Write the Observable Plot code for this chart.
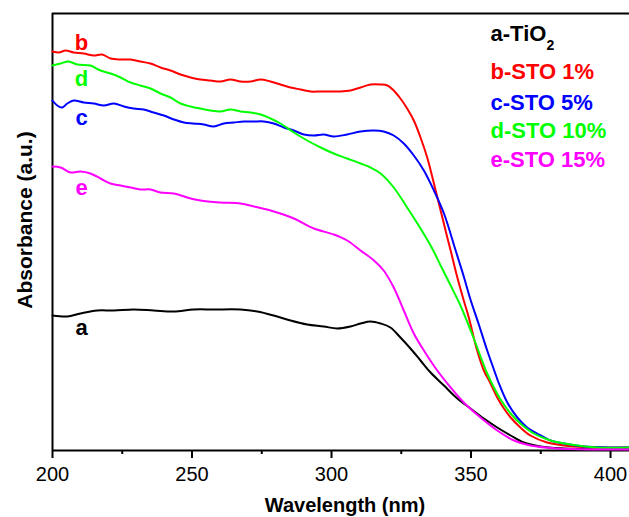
<!DOCTYPE html>
<html><head><meta charset="utf-8">
<script src="https://cdn.jsdelivr.net/npm/d3@7"></script>
<script src="https://cdn.jsdelivr.net/npm/@observablehq/plot@0.6"></script>
<style>body{margin:0;background:#fff;} svg{display:block}</style>
</head><body><div id="chart"></div><script>
// ---- data ----
const seriesKeys = ["a", "b", "c", "d", "e"];
const seriesNames = ["a-TiO2", "b-STO 1%", "c-STO 5%", "d-STO 10%", "e-STO 15%"];
const seriesColors = ["#000000", "#ff0000", "#0000ff", "#00ff00", "#ff00ff"];
const majorTicks = [200, 250, 300, 350, 400];
const minorTicks = [225, 275, 325, 375];

const waveA = [200.0,205.3,210.0,216.0,222.0,229.1,236.3,243.5,250.6,257.8,267.4,273.4,279.3,285.3,291.3,297.2,302.0,306.8,310.4,314.0,317.6,321.1,324.7,328.3,331.9,335.5,340.3,345.1,349.8,354.6,359.4,364.2,368.9,374.9,383.3,395.2,406.8];
const absA  = [1.35,1.34,1.37,1.40,1.40,1.41,1.40,1.39,1.41,1.41,1.41,1.39,1.35,1.30,1.26,1.24,1.22,1.24,1.27,1.29,1.27,1.23,1.13,1.02,0.90,0.78,0.65,0.52,0.42,0.32,0.23,0.15,0.08,0.04,0.02,0.01,0.01];

const waveB = [200.0,202.3,204.7,207.6,211.2,214.8,217.8,220.8,224.4,228.0,231.5,235.1,238.7,242.3,245.9,249.5,253.0,256.6,260.2,263.8,267.4,271.0,274.6,278.1,281.7,285.3,288.9,292.5,296.1,299.6,303.2,306.8,310.4,314.0,317.6,320.0,322.3,324.7,327.1,329.5,331.9,334.3,336.7,339.1,341.5,342.7,345.1,347.4,349.2,352.2,354.6,357.0,359.4,361.8,364.2,367.7,371.3,377.3,383.3,395.2,406.8];
const absB  = [3.99,3.98,4.00,3.98,3.97,3.95,3.96,3.92,3.91,3.91,3.89,3.87,3.83,3.80,3.76,3.73,3.71,3.70,3.69,3.71,3.69,3.69,3.71,3.69,3.66,3.63,3.61,3.59,3.59,3.59,3.59,3.60,3.63,3.66,3.66,3.65,3.60,3.52,3.42,3.30,3.13,2.93,2.67,2.40,2.13,2.00,1.73,1.50,1.33,1.00,0.80,0.67,0.53,0.42,0.33,0.23,0.15,0.08,0.05,0.03,0.03];

const waveC = [200.0,201.7,203.5,205.3,207.6,211.2,214.8,218.4,222.0,225.6,229.1,232.7,236.3,239.9,243.5,247.1,250.6,254.2,257.8,261.4,265.0,268.6,272.2,275.7,279.3,282.9,286.5,290.1,293.7,297.2,300.8,305.6,310.4,315.2,318.7,322.3,325.9,329.5,333.1,336.7,340.3,344.5,347.4,349.8,352.8,355.8,358.2,360.0,363.0,366.6,370.1,373.7,378.5,383.3,390.4,401.2,406.8];
const absC  = [3.50,3.45,3.43,3.47,3.50,3.48,3.47,3.45,3.47,3.44,3.42,3.41,3.38,3.35,3.31,3.28,3.27,3.26,3.24,3.27,3.28,3.29,3.29,3.29,3.27,3.23,3.20,3.16,3.15,3.16,3.14,3.16,3.19,3.20,3.19,3.15,3.07,2.95,2.80,2.60,2.37,2.00,1.74,1.51,1.26,1.00,0.81,0.67,0.48,0.33,0.23,0.17,0.10,0.07,0.04,0.03,0.03];

const waveD = [200.0,202.9,205.8,208.9,213.6,217.2,220.8,224.4,228.0,231.5,235.1,238.7,242.3,245.9,249.5,253.0,256.6,260.2,263.8,267.4,271.0,274.6,278.1,281.7,286.5,291.3,296.1,300.8,305.6,310.4,314.0,317.6,322.3,327.1,331.9,336.1,339.1,342.7,346.2,348.6,351.0,353.4,355.8,358.2,360.6,364.2,367.7,372.5,378.5,385.7,395.2,406.8];
const absD  = [3.85,3.87,3.89,3.86,3.85,3.80,3.77,3.73,3.68,3.65,3.62,3.57,3.53,3.47,3.44,3.42,3.40,3.39,3.41,3.39,3.38,3.36,3.32,3.27,3.18,3.10,3.03,2.97,2.92,2.87,2.83,2.77,2.63,2.43,2.22,2.02,1.85,1.65,1.45,1.29,1.12,0.94,0.77,0.63,0.51,0.37,0.27,0.17,0.10,0.06,0.03,0.03];

const waveE = [200.0,202.9,206.5,210.0,213.6,217.2,220.8,224.4,228.0,231.5,235.1,238.7,243.5,248.3,253.0,260.2,267.4,272.2,279.3,286.5,293.7,300.8,305.6,310.4,315.2,318.7,322.3,325.9,329.5,333.1,337.9,342.7,347.4,353.4,359.4,365.4,371.3,380.9,395.2,406.8];
const absE  = [2.84,2.83,2.78,2.79,2.77,2.72,2.67,2.65,2.63,2.61,2.61,2.58,2.57,2.53,2.50,2.48,2.47,2.44,2.39,2.32,2.22,2.16,2.10,2.00,1.90,1.80,1.63,1.40,1.17,1.00,0.80,0.63,0.48,0.33,0.20,0.10,0.05,0.02,0.01,0.01];

// annotation anchors (data coordinates)
const letterWave = 210.4;
const letterAbs = [1.23, 4.08, 3.33, 3.72, 2.63];
const legendWave = 357.0;
const legendAbs = [4.17, 3.79, 3.48, 3.20, 2.91];

// ---- build table ----
const waves = [waveA, waveB, waveC, waveD, waveE];
const absorb = [absA, absB, absC, absD, absE];
const rows = seriesKeys.flatMap((k, s) => waves[s].map((w, i) => ({series: k, wavelength: w, absorbance: absorb[s][i]})));
const letters = seriesKeys.map((k, i) => ({series: k, wavelength: letterWave, absorbance: letterAbs[i]}));
const legend = seriesKeys.map((k, i) => ({series: k, name: seriesNames[i], wavelength: legendWave, absorbance: legendAbs[i]}));

const chart = Plot.plot({
  width: 629, height: 517,
  marginLeft: 52, marginRight: 0, marginTop: 13, marginBottom: 67,
  style: {fontFamily: "'Liberation Sans', Arial, sans-serif", background: "#fff", color: "#000"},
  x: {domain: [200, 406.8]},
  y: {domain: [0, 4.37], axis: null},
  color: {domain: seriesKeys, range: seriesColors},
  marks: [
    Plot.ruleY([0, 4.37], {strokeWidth: 2}),
    Plot.ruleX([200], {strokeWidth: 2}),
    Plot.axisX({ticks: majorTicks, tickSize: 8, tickPadding: 8, fontSize: 20, strokeWidth: 2, label: null}),
    Plot.axisX({ticks: minorTicks, tickSize: 4, tickFormat: () => "", strokeWidth: 2, label: null}),
    Plot.line(rows, {x: "wavelength", y: "absorbance", z: "series", stroke: "series", strokeWidth: 2, curve: "catmull-rom"}),
    Plot.text(letters, {x: "wavelength", y: "absorbance", text: "series", fill: "series", fontSize: 22, fontWeight: "bold"}),
    Plot.text(legend, {x: "wavelength", y: "absorbance", text: "name", fill: "series", fontSize: 22, fontWeight: "bold", textAnchor: "start"})
  ]
});
document.getElementById("chart").appendChild(chart);

const svg = d3.select(chart);
// subscript for TiO2
svg.selectAll("text").filter(function () { return this.textContent === "a-TiO2"; })
  .each(function () {
    const t = d3.select(this);
    t.text("a-TiO");
    t.append("tspan").attr("dy", "9").attr("font-size", "14").text("2");
  });
// axis titles
svg.append("text").attr("x", 345).attr("y", 512).attr("text-anchor", "middle")
  .attr("font-size", 20).attr("font-weight", "bold").attr("fill", "#000").text("Wavelength (nm)");
svg.append("text").attr("transform", "translate(32,220) rotate(-90)").attr("text-anchor", "middle")
  .attr("font-size", 21).attr("font-weight", "bold").attr("fill", "#000").text("Absorbance (a.u.)");
</script></body></html>
